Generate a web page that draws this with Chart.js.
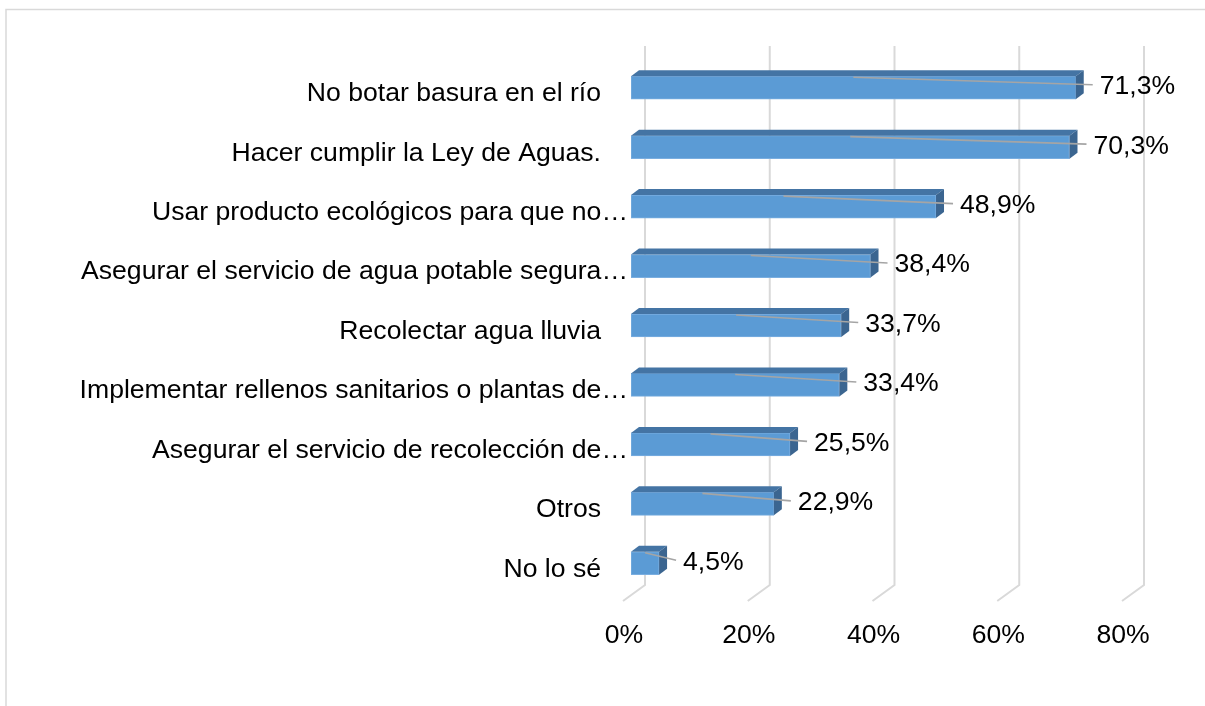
<!DOCTYPE html>
<html><head><meta charset="utf-8">
<script src="https://cdn.jsdelivr.net/npm/chart.js@4.4.1/dist/chart.umd.min.js"></script>
<style>html,body{margin:0;padding:0;background:#fff;overflow:hidden}#wrap{position:relative;width:1205px;height:706px}</style>
</head><body><div id="wrap"><canvas id="c" width="1205" height="706"></canvas></div>
<script>
const categories = [
  'No botar basura en el río',
  'Hacer cumplir la Ley de Aguas.',
  'Usar producto ecológicos para que no…',
  'Asegurar el servicio de agua potable segura…',
  'Recolectar agua lluvia',
  'Implementar rellenos sanitarios o plantas de…',
  'Asegurar el servicio de recolección de…',
  'Otros',
  'No lo sé'
];
const values = [71.3, 70.3, 48.9, 38.4, 33.7, 33.4, 25.5, 22.9, 4.5];
const tickValues = [0, 20, 40, 60, 80];
const tickLabels = ['0%', '20%', '40%', '60%', '80%'];

const FONT = '26.6px "Liberation Sans", Arial, sans-serif';
const DX = 8, DY = 6;

const fmt = v => v.toFixed(1).replace('.', ',') + '%';

const deco = {
  id: 'deco',
  beforeDatasetsDraw(chart) {
    const ctx = chart.ctx, xs = chart.scales.x, ys = chart.scales.y;
    ctx.save();
    // outer border (top + left)
    ctx.strokeStyle = '#d9d9d9'; ctx.lineWidth = 1.5;
    ctx.beginPath(); ctx.moveTo(6, 720); ctx.lineTo(6, 9.5); ctx.lineTo(1210, 9.5); ctx.stroke();
    // 3D gridlines
    ctx.lineWidth = 2; ctx.strokeStyle = '#d9d9d9';
    tickValues.forEach(v => {
      const p = xs.getPixelForValue(v);
      ctx.beginPath();
      ctx.moveTo(p + 14, 46); ctx.lineTo(p + 14, 585); ctx.lineTo(p - 8, 601);
      ctx.stroke();
    });
    // tick labels
    ctx.font = FONT; ctx.fillStyle = '#000'; ctx.textAlign = 'center'; ctx.textBaseline = 'middle';
    tickValues.forEach((v, i) => ctx.fillText(tickLabels[i], xs.getPixelForValue(v) - 7, 636));
    // category labels
    ctx.textAlign = 'right';
    categories.forEach((c, i) => {
      const y = ys.getPixelForValue(i) + 6;
      const x = c.endsWith('…') ? xs.left - 3 : xs.left - 30;
      ctx.fillText(c, x, y);
    });
    ctx.restore();
  },
  afterDatasetsDraw(chart) {
    const ctx = chart.ctx;
    const meta = chart.getDatasetMeta(0);
    ctx.save();
    meta.data.forEach((el, i) => {
      const p = el.getProps(['x', 'y', 'base', 'height'], true);
      const left = p.base, right = p.x, top = p.y - p.height / 2, bottom = p.y + p.height / 2;
      // top face
      ctx.fillStyle = '#4474a4';
      ctx.beginPath();
      ctx.moveTo(left, top); ctx.lineTo(left + DX, top - DY); ctx.lineTo(right + DX, top - DY); ctx.lineTo(right, top);
      ctx.closePath(); ctx.fill();
      // side face
      ctx.fillStyle = '#3b6590';
      ctx.beginPath();
      ctx.moveTo(right, top); ctx.lineTo(right + DX, top - DY); ctx.lineTo(right + DX, bottom - DY); ctx.lineTo(right, bottom);
      ctx.closePath(); ctx.fill();
      // leader line
      ctx.strokeStyle = '#a5a5a5'; ctx.lineWidth = 1.6;
      ctx.beginPath();
      ctx.moveTo((left + right) / 2, top + 1);
      ctx.lineTo(right + DX + 9, p.y - 3);
      ctx.stroke();
      // value label
      ctx.font = FONT; ctx.fillStyle = '#000'; ctx.textAlign = 'left'; ctx.textBaseline = 'middle';
      ctx.fillText(fmt(values[i]), right + 24, p.y - 1);
    });
    ctx.restore();
  }
};

new Chart(document.getElementById('c'), {
  type: 'bar',
  data: {
    labels: categories,
    datasets: [{
      data: values,
      backgroundColor: '#5b9bd5',
      borderColor: '#7aaee0',
      borderWidth: 1,
      borderSkipped: false,
      barThickness: 23
    }]
  },
  options: {
    indexAxis: 'y',
    responsive: false,
    animation: false,
    events: [],
    layout: { padding: { left: 631, right: 75, top: 58, bottom: 113 } },
    plugins: { legend: { display: false }, tooltip: { enabled: false } },
    scales: {
      x: { display: false, min: 0, max: 80 },
      y: { display: false }
    }
  },
  plugins: [deco]
});
</script>
</body></html>
